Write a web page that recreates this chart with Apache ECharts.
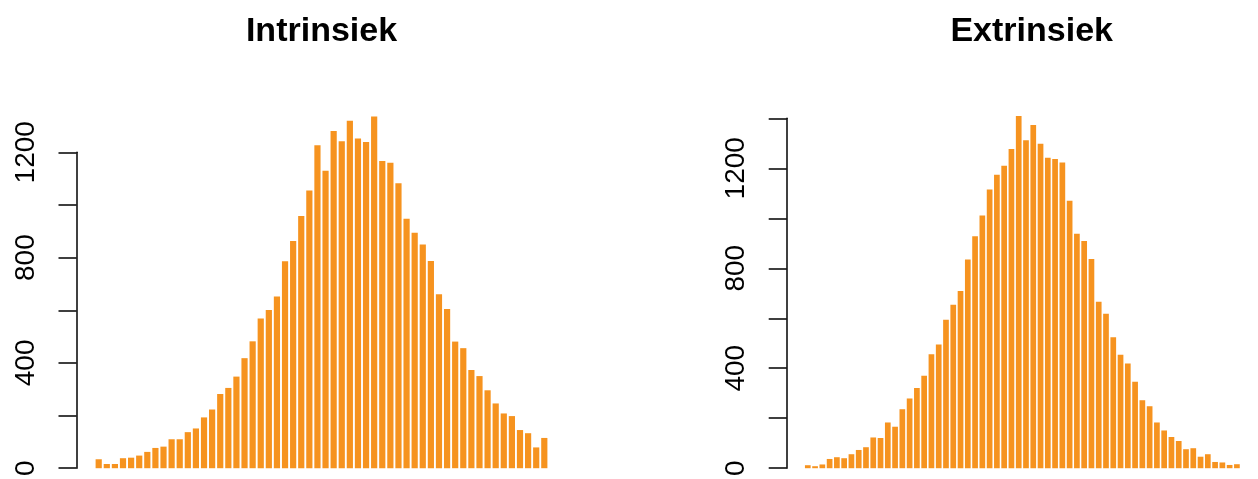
<!DOCTYPE html>
<html>
<head>
<meta charset="utf-8">
<script src="https://cdn.jsdelivr.net/npm/echarts@6/dist/echarts.min.js"></script>
<style>
  html, body { margin: 0; padding: 0; background: #ffffff; }
  #chart { width: 1258px; height: 479px; }
</style>
</head>
<body>
<div id="chart"></div>
<script>
// Panel titles
const titles = ['Intrinsiek', 'Extrinsiek'];

// Histogram counts per bin
const intrinsiek = [
  34, 16, 16, 38, 40, 48, 62, 77, 82, 110,
  110, 137, 151, 193, 223, 282, 305, 348, 418, 482,
  569, 601, 652, 786, 863, 958, 1055, 1227, 1130, 1281,
  1242, 1320, 1252, 1239, 1336, 1167, 1160, 1082, 948, 894,
  850, 787, 661, 605, 481, 456, 373, 350, 296, 246,
  208, 198, 145, 133, 79, 115
];
const extrinsiek = [
  12, 8, 15, 37, 44, 40, 56, 73, 84, 123,
  121, 183, 166, 236, 279, 321, 370, 456, 495, 594,
  654, 709, 835, 928, 1011, 1115, 1174, 1210, 1277, 1409,
  1312, 1373, 1298, 1242, 1237, 1223, 1070, 938, 909, 837,
  666, 618, 524, 454, 419, 346, 272, 248, 183, 151,
  125, 109, 76, 80, 46, 56, 25, 23, 13, 16
];

// Y axis ticks: every 200, labelled every 400
const yTickStep = 200;
const yLabelled = [0, 400, 800, 1200];
const yMaxLeft = 1200;
const yMaxRight = 1400;

const BAR_COLOR = '#F6931F';
const FONT = '"Liberation Sans", Arial, Helvetica, sans-serif';

// x range padded by 4% of the bin span on both sides
function xRange(n) {
  const pad = 0.04 * n;
  return { min: -0.5 - pad, max: n - 0.5 + pad };
}

function yAxis(gridIndex, max) {
  return {
    gridIndex: gridIndex,
    type: 'value',
    min: 0,
    max: max,
    interval: yTickStep,
    axisLine: { show: true, onZero: false, lineStyle: { color: '#000', width: 1.5 } },
    axisTick: { show: true, inside: false, length: 18, lineStyle: { color: '#000', width: 1.5 } },
    splitLine: { show: false },
    axisLabel: {
      rotate: 90,
      margin: 36.5,
      fontSize: 28,
      color: '#000',
      fontFamily: FONT,
      showMinLabel: true,
      showMaxLabel: true,
      formatter: v => (yLabelled.indexOf(v) >= 0 ? String(v) : '')
    }
  };
}

function xAxis(gridIndex, n) {
  const r = xRange(n);
  return { gridIndex: gridIndex, type: 'value', min: r.min, max: r.max, show: false };
}

function bars(idx, values, width) {
  return {
    type: 'bar',
    xAxisIndex: idx,
    yAxisIndex: idx,
    data: values.map((v, i) => [i, v]),
    barWidth: width,
    clip: false,
    silent: true,
    itemStyle: { color: BAR_COLOR }
  };
}

function title(text, centerX) {
  return {
    text: text, left: centerX, top: 15, padding: 0, textAlign: 'center',
    textStyle: { fontSize: 34, fontWeight: 'bold', color: '#000', fontFamily: FONT }
  };
}

const chart = echarts.init(document.getElementById('chart'), null, { renderer: 'canvas' });
chart.setOption({
  animation: false,
  backgroundColor: '#ffffff',
  title: [title(titles[0], 321.5), title(titles[1], 1031.7)],
  grid: [
    { left: 76.5, top: 152.3, width: 490, height: 317.7, containLabel: false },
    { left: 786.7, top: 118.3, width: 490, height: 351.7, containLabel: false }
  ],
  xAxis: [xAxis(0, intrinsiek.length), xAxis(1, extrinsiek.length)],
  yAxis: [yAxis(0, yMaxLeft), yAxis(1, yMaxRight)],
  series: [bars(0, intrinsiek, 6.2), bars(1, extrinsiek, 5.7)]
});
</script>
</body>
</html>
